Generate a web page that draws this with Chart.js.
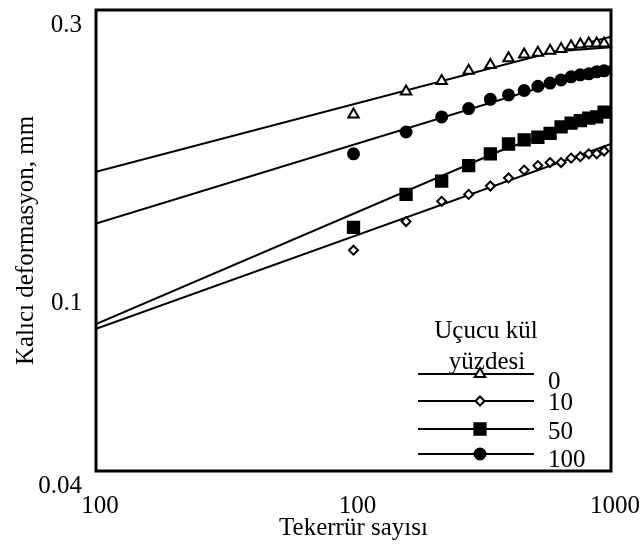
<!DOCTYPE html>
<html>
<head>
<meta charset="utf-8">
<script src="https://cdn.jsdelivr.net/npm/chart.js@4"></script>
<style>
  html, body { margin: 0; padding: 0; background: #fff; }
  #wrap { width: 643px; height: 548px; }
</style>
</head>
<body>
<div id="wrap"><canvas id="chart" width="643" height="548"></canvas></div>
<script>
'use strict';

/* ── Data ─────────────────────────────────────────────────────────────── */

// Tekerrür sayısı (number of load repetitions)
const cycles = [100, 160, 220, 280, 340, 400, 460, 520, 580, 640, 700, 760, 820, 880, 940];

// Kalıcı deformasyon (mm) for each fly ash content
const def0   = [0.190, 0.210, 0.220, 0.230, 0.236, 0.243, 0.247, 0.249, 0.251, 0.253, 0.256, 0.258, 0.259, 0.259, 0.259];
const def10  = [0.105, 0.119, 0.130, 0.134, 0.139, 0.144, 0.149, 0.152, 0.154, 0.154, 0.157, 0.158, 0.160, 0.160, 0.162];
const def50  = [0.116, 0.134, 0.142, 0.152, 0.160, 0.167, 0.170, 0.172, 0.175, 0.180, 0.183, 0.185, 0.187, 0.188, 0.192];
const def100 = [0.160, 0.176, 0.188, 0.195, 0.203, 0.207, 0.211, 0.215, 0.218, 0.221, 0.224, 0.226, 0.227, 0.229, 0.230];

// fitted trend lines
const fit0X    = [10, 1000];        const fit0Y    = [0.148, 0.267];
const fit0bX   = [580, 1000];       const fit0bY   = [0.250, 0.255];
const fit10X   = [10, 1000];        const fit10Y   = [0.0745, 0.167];
const fit50X   = [10, 370, 1000];   const fit50Y   = [0.076, 0.162, 0.193];
const fit100X  = [10, 1000];        const fit100Y  = [0.118, 0.235];

const seriesNames = ['0', '10', '50', '100'];
const legendTitle = ['Uçucu kül', 'yüzdesi'];

const xTickValues = [10, 100, 1000];
const xTickLabels = ['100', '100', '1000'];
const yTickValues = [0.04, 0.1, 0.3];
const yTickLabels = ['0.04', '0.1', '0.3'];

/* ── Helpers ──────────────────────────────────────────────────────────── */

const FONT = "'Liberation Serif', 'Times New Roman', serif";
const FONT_SIZE = 25;
const pts = (xs, ys) => xs.map((x, i) => ({ x, y: ys[i] }));
const yLabel = v => yTickLabels[yTickValues.indexOf(v)];

function markerSet(label, data, style, radius, fill) {
    return {
        label,
        data: pts(cycles, data),
        showLine: false,
        pointStyle: style,
        pointRadius: radius,
        pointBackgroundColor: fill,
        pointBorderColor: '#000',
        pointBorderWidth: 2,
    };
}

function fitLine(xs, ys) {
    return {
        data: pts(xs, ys),
        showLine: true,
        borderColor: '#000',
        borderWidth: 2,
        pointRadius: 0,
        fill: false,
    };
}

// keep the plot box fixed: no automatic label padding around the axes
function noPadding(axis) {
    axis.paddingTop = 0;
    axis.paddingBottom = 0;
    axis.paddingLeft = 0;
    axis.paddingRight = 0;
}

/* ── Plugins: plot frame + inline legend ──────────────────────────────── */

const framePlugin = {
    id: 'frame',
    afterDraw(chart) {
        const { ctx, chartArea: a } = chart;
        ctx.save();
        ctx.strokeStyle = '#000';
        ctx.lineWidth = 3;
        ctx.strokeRect(a.left, a.top, a.right - a.left, a.bottom - a.top);
        ctx.restore();
    },
};

const legendPlugin = {
    id: 'ashLegend',
    afterDatasetsDraw(chart) {
        const ctx = chart.ctx;
        const rowY = [374, 401, 429, 454];
        const textY = [382, 403, 432, 460];
        ctx.save();
        ctx.font = FONT_SIZE + 'px ' + FONT;
        ctx.fillStyle = '#000';
        ctx.textAlign = 'center';
        ctx.textBaseline = 'middle';
        ctx.fillText(legendTitle[0], 486, 331);
        ctx.fillText(legendTitle[1], 487, 362);

        seriesNames.forEach((name, i) => {
            const ds = chart.data.datasets[i];
            const y = rowY[i];
            ctx.strokeStyle = '#000';
            ctx.lineWidth = 2;
            ctx.beginPath();
            ctx.moveTo(418, y);
            ctx.lineTo(534, y);
            ctx.stroke();

            ctx.fillStyle = ds.pointBackgroundColor;
            Chart.helpers.drawPoint(ctx, {
                pointStyle: ds.pointStyle,
                radius: ds.pointRadius,
                borderWidth: ds.pointBorderWidth,
                rotation: 0,
            }, 480, y);

            ctx.fillStyle = '#000';
            ctx.textAlign = 'left';
            ctx.fillText(name, 548, textY[i]);
        });
        ctx.restore();
    },
};

/* ── Chart ────────────────────────────────────────────────────────────── */

Chart.defaults.font.family = FONT;
Chart.defaults.font.size = FONT_SIZE;
Chart.defaults.color = '#000';

const yBase = {
    type: 'logarithmic',
    min: 0.04,
    max: 0.3,
    position: 'left',
    grid: { display: false, drawTicks: false },
    border: { display: false },
};

new Chart(document.getElementById('chart'), {
    type: 'scatter',
    data: {
        datasets: [
            markerSet('0',   def0,   'triangle', 6,   '#fff'),
            markerSet('10',  def10,  'rectRot',  4.5, '#fff'),
            markerSet('50',  def50,  'rect',     8,   '#000'),
            markerSet('100', def100, 'circle',   5.5, '#000'),
            fitLine(fit0X, fit0Y),
            fitLine(fit0bX, fit0bY),
            fitLine(fit10X, fit10Y),
            fitLine(fit50X, fit50Y),
            fitLine(fit100X, fit100Y),
        ],
    },
    options: {
        responsive: false,
        animation: false,
        devicePixelRatio: 1,
        layout: { padding: { left: 0, right: 32, top: 8, bottom: 0 } },
        plugins: {
            legend: { display: false },
            tooltip: { enabled: false },
        },
        scales: {
            x: {
                type: 'logarithmic',
                min: 10,
                max: 1000,
                grid: { display: false, drawTicks: false },
                border: { display: false },
                afterBuildTicks: axis => { axis.ticks = xTickValues.map(v => ({ value: v })); },
                afterFit: axis => { axis.height = 77; noPadding(axis); },
                ticks: {
                    padding: 20,
                    maxRotation: 0,
                    autoSkip: false,
                    labelOffset: 4,
                    callback: (v, i) => xTickLabels[i],
                },
                title: {
                    display: true,
                    text: 'Tekerrür sayısı',
                    padding: { top: 0, bottom: 5 },
                },
            },
            // outer y axis: end labels and the axis title
            y: {
                ...yBase,
                weight: 0,
                afterBuildTicks: axis => {
                    axis.ticks = [yTickValues[0], yTickValues[2]].map(v => ({ value: v }));
                },
                afterFit: axis => { axis.width = 96; noPadding(axis); },
                ticks: { padding: 14, autoSkip: false, labelOffset: 15, callback: yLabel },
                title: {
                    display: true,
                    text: 'Kalıcı deformasyon, mm',
                    padding: { top: 11, bottom: 0 },
                },
            },
            // zero-width companion axis along the plot edge: the 0.1 label sits
            // lower than the end labels; mirrored so its label is not clipped
            yMid: {
                ...yBase,
                weight: -1,
                afterBuildTicks: axis => { axis.ticks = [{ value: yTickValues[1] }]; },
                afterFit: axis => { axis.width = 0; noPadding(axis); },
                ticks: {
                    mirror: true,
                    crossAlign: 'far',
                    padding: -45,
                    autoSkip: false,
                    labelOffset: 42,
                    callback: yLabel,
                },
            },
        },
    },
    plugins: [framePlugin, legendPlugin],
});
</script>
</body>
</html>
